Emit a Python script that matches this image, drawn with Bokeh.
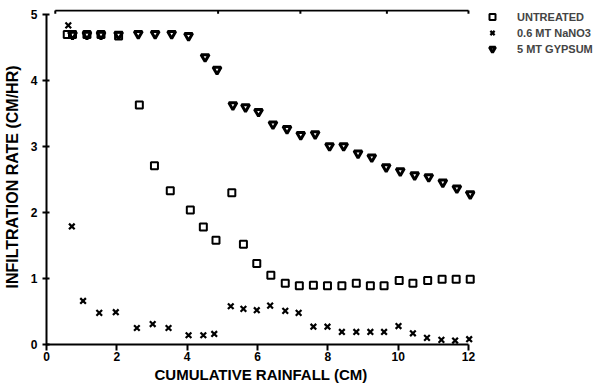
from bokeh.plotting import figure
from bokeh.models import Range1d, LinearAxis, FixedTicker, Legend, LegendItem
from bokeh.embed import file_html
from bokeh.resources import INLINE

# ---- data ----
untreated_x = [0.59, 0.74, 1.15, 1.55, 2.05, 2.64, 3.07, 3.52, 4.09, 4.46, 4.82, 5.27, 5.60,
               5.98, 6.38, 6.79, 7.19, 7.59, 7.99, 8.40, 8.81, 9.21, 9.60, 10.03, 10.42,
               10.84, 11.25, 11.65, 12.05]
untreated_y = [4.70, 4.70, 4.70, 4.70, 4.68, 3.63, 2.71, 2.33, 2.04, 1.78, 1.58, 2.30, 1.52,
               1.23, 1.05, 0.93, 0.89, 0.90, 0.89, 0.89, 0.93, 0.89, 0.89, 0.97, 0.93,
               0.97, 0.99, 0.99, 0.99]

nano3_x = [0.62, 0.72, 1.04, 1.50, 1.97, 2.57, 3.02, 3.47, 4.04, 4.46, 4.77, 5.24, 5.60,
           5.98, 6.36, 6.79, 7.17, 7.59, 7.99, 8.40, 8.81, 9.21, 9.60, 10.01, 10.42,
           10.82, 11.23, 11.62, 12.02]
nano3_y = [4.84, 1.79, 0.66, 0.48, 0.49, 0.25, 0.31, 0.25, 0.14, 0.14, 0.16, 0.58, 0.54,
           0.52, 0.59, 0.51, 0.48, 0.27, 0.27, 0.19, 0.19, 0.19, 0.19, 0.28, 0.17,
           0.10, 0.07, 0.06, 0.08]

gypsum_x = [0.74, 1.15, 1.55, 2.05, 2.61, 3.09, 3.56, 4.04, 4.51, 4.85, 5.30, 5.66, 6.03,
            6.44, 6.84, 7.23, 7.64, 8.05, 8.45, 8.86, 9.25, 9.66, 10.06, 10.47, 10.87,
            11.27, 11.67, 12.05]
gypsum_y = [4.70, 4.70, 4.70, 4.70, 4.71, 4.71, 4.71, 4.68, 4.36, 4.17, 3.63, 3.60, 3.53,
            3.34, 3.27, 3.18, 3.19, 3.01, 3.01, 2.90, 2.84, 2.69, 2.63, 2.57, 2.54,
            2.46, 2.37, 2.28]

x_ticks = [0, 2, 4, 6, 8, 10, 12]
y_ticks = [0, 1, 2, 3, 4, 5]
top_ticks = [0.25, 4.88, 7.22, 9.68, 12]   # small breaks on the top frame line
TOP_Y = 5.065

FONT = "Liberation Sans"

p = figure(frame_width=429, frame_height=335,
           x_range=Range1d(0, 12.2), y_range=Range1d(0, 5.08),
           output_backend="svg", toolbar_location=None,
           min_border_left=38, min_border_right=125, min_border_top=9, min_border_bottom=5,
           x_axis_location=None, y_axis_location=None)
p.outline_line_color = None
p.grid.visible = False
p.background_fill_color = "white"
p.border_fill_color = "white"

xa = LinearAxis(ticker=FixedTicker(ticks=x_ticks), bounds=(0, 12),
                axis_label="CUMULATIVE RAINFALL (CM)")
ya = LinearAxis(ticker=FixedTicker(ticks=y_ticks), bounds=(0, 5),
                axis_label="INFILTRATION RATE (CM/HR)")
for ax in (xa, ya):
    ax.axis_line_width = 2
    ax.major_tick_line_width = 2
    ax.minor_tick_line_color = None
    ax.major_label_text_font = FONT
    ax.major_label_text_font_style = "bold"
    ax.major_label_text_font_size = "12px"
    ax.major_label_text_color = "black"
    ax.axis_label_text_font = FONT
    ax.axis_label_text_font_style = "bold"
    ax.axis_label_text_color = "black"
xa.axis_label_text_font_size = "15px"
ya.axis_label_text_font_size = "16px"
xa.major_tick_in = 0
xa.major_tick_out = 6
xa.major_label_standoff = 1
xa.axis_label_standoff = 2
ya.major_tick_in = 3
ya.major_tick_out = 4
ya.major_label_standoff = 5
ya.axis_label_standoff = 7
p.add_layout(xa, "below")
p.add_layout(ya, "left")

# top frame line with its small tick breaks
p.line(x=[top_ticks[0], top_ticks[-1]], y=[TOP_Y, TOP_Y], line_color="black", line_width=2)
p.segment(x0=top_ticks, y0=[TOP_Y] * len(top_ticks), x1=top_ticks,
          y1=[TOP_Y - 0.05] * len(top_ticks), line_color="black", line_width=2)

r_gyp = p.scatter(gypsum_x, gypsum_y, marker="inverted_triangle", size=8,
                  fill_color="white", line_color="black", line_width=3)
r_unt = p.scatter(untreated_x, untreated_y, marker="square", size=7,
                  fill_color=None, line_color="black", line_width=2)
r_nano = p.scatter(nano3_x, nano3_y, marker="x", size=8,
                   line_color="black", line_width=2.2)

legend = Legend(items=[LegendItem(label="UNTREATED", renderers=[r_unt]),
                       LegendItem(label="0.6 MT NaNO3", renderers=[r_nano]),
                       LegendItem(label="5 MT GYPSUM", renderers=[r_gyp])],
                location="top_left", margin=0, padding=0, spacing=1,
                glyph_width=34, glyph_height=15, label_height=15, label_standoff=8,
                label_text_font=FONT, label_text_font_style="bold",
                label_text_font_size="11px", border_line_color=None,
                background_fill_alpha=0)
p.add_layout(legend, "right")

open("out.html", "w").write(file_html(p, INLINE))
